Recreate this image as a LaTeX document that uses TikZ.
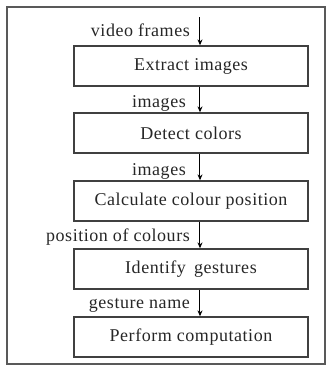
\documentclass[tikz,border=0pt]{standalone}
\usepackage{fontspec}
\setmainfont{Liberation Serif}[LetterSpace=3]
\usetikzlibrary{arrows.meta}
\begin{document}
\begin{tikzpicture}[x=1pt,y=-1pt,
  stage/.style={draw=black!75,line width=1.3pt,minimum width=234pt,minimum height=40pt,
    inner sep=0pt,font=\fontsize{18}{20}\rmfamily\selectfont,text=black!85},
  flowlabel/.style={anchor=east,inner sep=0pt,font=\fontsize{18}{20}\rmfamily\selectfont,text=black!85},
  flow/.style={-{Stealth[length=6pt,width=5pt]},line width=1pt,black}]
\useasboundingbox (0,0) rectangle (328,368);
\draw[black!65,line width=1.8pt] (7,7) rectangle (325,364);
\node[stage] (s1) at (191,66) {Extract images};
\node[stage] (s2) at (191,133) {Detect colors};
\node[stage] (s3) at (191,201) {Calculate colour position};
\node[stage] (s4) at (191,269) {Identify\, gestures};
\node[stage] (s5) at (191,337) {Perform computation};
\coordinate (in) at (200,17);
\draw[flow] (in) -- (in |- s1.north);
\draw[flow] (s1.south -| in) -- (s2.north -| in);
\draw[flow] (s2.south -| in) -- (s3.north -| in);
\draw[flow] (s3.south -| in) -- (s4.north -| in);
\draw[flow] (s4.south -| in) -- (s5.north -| in);
\node[flowlabel] (l1) at (190,30) {video frames};
\node[flowlabel] (l2) at (186,103) {images};
\node[flowlabel] (l3) at (186,171) {images};
\node[flowlabel] (l4) at (190,237) {position of colours};
\node[flowlabel] (l5) at (190,305) {gesture name};
\end{tikzpicture}
\end{document}
